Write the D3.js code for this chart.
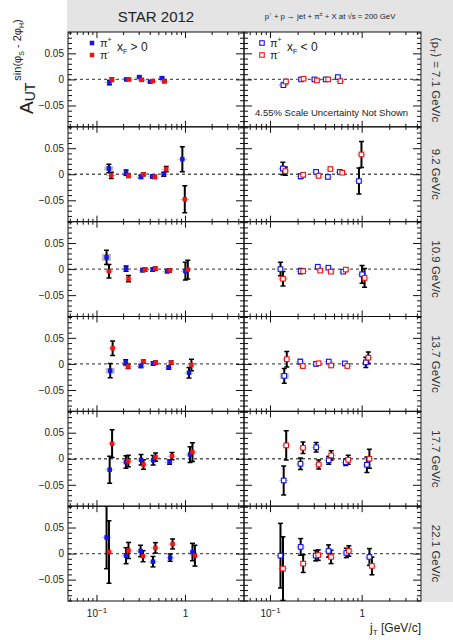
<!DOCTYPE html>
<html><head><meta charset="utf-8">
<script src="https://cdn.jsdelivr.net/npm/d3@7"></script>
<style>
body{margin:0;background:#fff}
svg{display:block;font-family:"Liberation Sans",Arial,Helvetica,sans-serif}
</style>
</head><body><svg id="c" width="453" height="640"></svg>
<script>
// ---------------- DATA ----------------
const rowLabels = ["\u27E8p_T\u27E9 = 7.1 GeV/c", "9.2 GeV/c", "10.9 GeV/c", "13.7 GeV/c", "17.7 GeV/c", "22.1 GeV/c"];
// jT bin centres per pT row (pi+ position; pi- drawn slightly shifted)
const jT = [
  [0.14, 0.218, 0.305, 0.405, 0.55],
  [0.138, 0.216, 0.318, 0.428, 0.576, 0.934],
  [0.13, 0.216, 0.332, 0.433, 0.63, 1.01],
  [0.143, 0.214, 0.318, 0.437, 0.655, 1.11],
  [0.141, 0.215, 0.319, 0.437, 0.67, 1.14],
  [0.13, 0.216, 0.315, 0.435, 0.68, 1.215]
];
// xF > 0, pi+
const posPlus = [
  [-0.006, 0.000, 0.0045, -0.0045, 0.0025],
  [0.011, 0.003, -0.005, -0.004, 0.000, 0.029],
  [0.0225, 0.001, -0.002, -0.001, -0.004, -0.004],
  [-0.013, 0.003, -0.004, 0.001, -0.007, -0.017],
  [-0.021, -0.0064, -0.002, -0.003, -0.0064, 0.008],
  [0.031, -0.004, 0.005, -0.0155, -0.0077, 0.003]
];
// xF > 0, pi-
const posMinus = [
  [0.000, 0.000, -0.001, -0.003, -0.004],
  [-0.002, -0.003, 0.000, -0.005, 0.010, -0.048],
  [-0.004, -0.0185, -0.001, 0.001, -0.0025, -0.001],
  [0.030, -0.005, 0.0045, 0.0026, 0.0026, -0.002],
  [0.029, -0.0045, -0.011, 0.003, 0.005, 0.0127],
  [0.003, 0.006, -0.005, 0.011, 0.0185, -0.004]
];
// xF < 0, pi+
const negPlus = [
  [-0.011, 0.000, 0.000, 0.000, 0.0045],
  [0.011, -0.004, 0.0045, -0.005, 0.0045, -0.013],
  [0.000, -0.004, 0.0045, 0.0026, -0.005, -0.010],
  [-0.023, 0.0045, 0.000, 0.0045, 0.001, 0.003],
  [-0.0417, -0.0096, 0.022, -0.003, -0.0064, -0.0115],
  [-0.004, 0.0128, -0.004, 0.005, 0.0013, -0.0064]
];
// xF < 0, pi-
const negMinus = [
  [-0.004, 0.0013, -0.002, 0.000, -0.0034],
  [0.006, -0.001, -0.003, 0.010, 0.003, 0.038],
  [-0.0185, -0.004, -0.003, -0.005, -0.001, -0.017],
  [0.009, -0.004, 0.0013, -0.003, -0.004, 0.012],
  [0.0256, 0.021, -0.011, 0.0064, -0.002, 0.000],
  [-0.0288, -0.0192, -0.003, -0.0064, 0.005, -0.0237]
];
// statistical errors
const errPosPlus = [
  [0.004, 0.002, 0.002, 0.002, 0.002],
  [0.008, 0.005, 0.003, 0.003, 0.004, 0.024],
  [0.0137, 0.005, 0.003, 0.003, 0.003, 0.017],
  [0.0137, 0.005, 0.003, 0.003, 0.003, 0.010],
  [0.026, 0.012, 0.010, 0.009, 0.004, 0.015],
  [0.060, 0.0154, 0.011, 0.010, 0.007, 0.0167]
];
const errPosMinus = [
  [0.003, 0.002, 0.002, 0.002, 0.002],
  [0.006, 0.003, 0.003, 0.003, 0.005, 0.026],
  [0.013, 0.006, 0.003, 0.003, 0.003, 0.018],
  [0.014, 0.004, 0.003, 0.003, 0.003, 0.011],
  [0.0266, 0.011, 0.009, 0.008, 0.007, 0.018],
  [0.060, 0.0154, 0.0106, 0.010, 0.0096, 0.020]
];
const errNegPlus = [
  [0.004, 0.002, 0.002, 0.002, 0.002],
  [0.012, 0.004, 0.003, 0.003, 0.003, 0.025],
  [0.013, 0.005, 0.003, 0.003, 0.003, 0.017],
  [0.014, 0.004, 0.003, 0.003, 0.003, 0.010],
  [0.028, 0.011, 0.009, 0.0075, 0.0065, 0.015],
  [0.062, 0.016, 0.010, 0.0117, 0.009, 0.016]
];
const errNegMinus = [
  [0.004, 0.002, 0.002, 0.002, 0.002],
  [0.008, 0.004, 0.003, 0.003, 0.003, 0.025],
  [0.014, 0.004, 0.003, 0.003, 0.003, 0.018],
  [0.015, 0.004, 0.003, 0.003, 0.003, 0.011],
  [0.028, 0.011, 0.0087, 0.009, 0.0087, 0.018],
  [0.061, 0.017, 0.010, 0.0128, 0.010, 0.017]
];
// systematic uncertainties (grey boxes)
const sysPosPlus = [
  [0.001, 0.0005, 0.0005, 0.0005, 0.0005],
  [0.004, 0.0005, 0.0005, 0.0005, 0.0005, 0.0005],
  [0.0067, 0.0005, 0.0005, 0.0005, 0.0005, 0.0005],
  [0.0055, 0.0005, 0.0005, 0.0005, 0.0005, 0.0005],
  [0.001, 0.0005, 0.0005, 0.0005, 0.0005, 0.0005],
  [0.001, 0.0005, 0.0005, 0.0005, 0.0005, 0.0005]
];
const sysPosMinus = [
  [0.0005, 0.0005, 0.0005, 0.0005, 0.0005],
  [0.0005, 0.0005, 0.0005, 0.0005, 0.0005, 0.0005],
  [0.001, 0.0005, 0.0005, 0.0005, 0.0005, 0.0005],
  [0.001, 0.0005, 0.0005, 0.0005, 0.0005, 0.0005],
  [0.001, 0.0005, 0.0005, 0.0005, 0.0005, 0.0005],
  [0.001, 0.0005, 0.0005, 0.0005, 0.0005, 0.0005]
];
const sysNegPlus = [
  [0.002, 0.0005, 0.0005, 0.0005, 0.0005],
  [0.002, 0.0005, 0.0005, 0.0005, 0.0005, 0.0005],
  [0.001, 0.0005, 0.0005, 0.0005, 0.0005, 0.0005],
  [0.0055, 0.0005, 0.0005, 0.0005, 0.0005, 0.0005],
  [0.001, 0.0005, 0.0005, 0.0005, 0.0005, 0.0005],
  [0.001, 0.0005, 0.0005, 0.0005, 0.0005, 0.0005]
];
const sysNegMinus = [
  [0.0005, 0.0005, 0.0005, 0.0005, 0.0005],
  [0.001, 0.0005, 0.0005, 0.0005, 0.0005, 0.0005],
  [0.003, 0.0005, 0.0005, 0.0005, 0.0005, 0.0005],
  [0.001, 0.0005, 0.0005, 0.0005, 0.0005, 0.0005],
  [0.001, 0.0005, 0.0005, 0.0005, 0.0005, 0.0005],
  [0.001, 0.0005, 0.0005, 0.0005, 0.0005, 0.0005]
];
const yMajorTicks = [-0.05, 0, 0.05];
const yMinorTicks = [-0.09, -0.08, -0.07, -0.06, -0.04, -0.03, -0.02, -0.01, 0.01, 0.02, 0.03, 0.04, 0.06, 0.07, 0.08, 0.09];
const xMajorTicks = [0.1, 1];
const xMinorTicks = [0.05, 0.06, 0.07, 0.08, 0.09, 0.2, 0.3, 0.4, 0.5, 0.6, 0.7, 0.8, 0.9, 2, 3, 4];

// ---------------- LAYOUT ----------------
const W = 453, H = 640;
const L = 68, M = 244, R = 421, T = 32, B = 601;
const nRows = rowLabels.length;
const rowH = (B - T) / nRows;
const blue = "#1414f0", red = "#f01414";
const minusShift = 1.065;
const svg = d3.select("#c");

svg.append("rect").attr("x", 67).attr("y", 0).attr("width", W - 67).attr("height", T).attr("fill", "#e4e4e4");
svg.append("rect").attr("x", R + 1).attr("y", T).attr("width", W - R - 1).attr("height", B - T + 1).attr("fill", "#e4e4e4");

const xL = d3.scaleLog().domain([0.0477, 4.64]).range([L, M]);
const xR = d3.scaleLog().domain([0.052, 4.44]).range([M, R]);
const panels = [
  {x: xL, plus: posPlus, minus: posMinus, ePlus: errPosPlus, eMinus: errPosMinus, sPlus: sysPosPlus, sMinus: sysPosMinus, filled: true},
  {x: xR, plus: negPlus, minus: negMinus, ePlus: errNegPlus, eMinus: errNegMinus, sPlus: sysNegPlus, sMinus: sysNegMinus, filled: false}
];
const fmtY = d => d === 0 ? "0" : (d < 0 ? "\u2212" + Math.abs(d) : String(d));

function inDom(sc, vals) { const [a, b] = sc.domain(); return vals.filter(v => v >= a && v <= b); }

for (let r = 0; r < nRows; r++) {
  const y0 = T + r * rowH, y1 = T + (r + 1) * rowH;
  const y = d3.scaleLinear().domain([-0.091, 0.091]).range([y1, y0]);
  const g = svg.append("g");

  // zero line
  g.append("line").attr("x1", L).attr("x2", R).attr("y1", y(0)).attr("y2", y(0))
    .attr("stroke", "#555").attr("stroke-width", 1.3).attr("stroke-dasharray", "3,3");

  panels.forEach((p, pi) => {
    const [xa, xb] = p.x.range();
    g.append("g").attr("transform", `translate(${xa},0)`)
      .call(d3.axisLeft(y).tickValues(yMajorTicks).tickSizeInner(-8).tickSizeOuter(0).tickPadding(4)
        .tickFormat(pi === 0 ? fmtY : ""));
    g.append("g").attr("transform", `translate(${xa},0)`)
      .call(d3.axisLeft(y).tickValues(yMinorTicks).tickSizeInner(-4).tickSizeOuter(0).tickFormat(""));
    g.append("g").attr("transform", `translate(${xb},0)`)
      .call(d3.axisRight(y).tickValues(yMajorTicks).tickSizeInner(-8).tickSizeOuter(0).tickFormat(""));
    g.append("g").attr("transform", `translate(${xb},0)`)
      .call(d3.axisRight(y).tickValues(yMinorTicks).tickSizeInner(-4).tickSizeOuter(0).tickFormat(""));
    const xb1 = g.append("g").attr("transform", `translate(0,${y1})`)
      .call(d3.axisBottom(p.x).tickValues(inDom(p.x, xMajorTicks)).tickSizeInner(-6).tickSizeOuter(0).tickFormat(""));
    g.append("g").attr("transform", `translate(0,${y1})`)
      .call(d3.axisBottom(p.x).tickValues(inDom(p.x, xMinorTicks)).tickSizeInner(-3).tickSizeOuter(0).tickFormat(""));
    g.append("g").attr("transform", `translate(0,${y0})`)
      .call(d3.axisTop(p.x).tickValues(inDom(p.x, xMajorTicks)).tickSizeInner(-6).tickSizeOuter(0).tickFormat(""));
    g.append("g").attr("transform", `translate(0,${y0})`)
      .call(d3.axisTop(p.x).tickValues(inDom(p.x, xMinorTicks)).tickSizeInner(-3).tickSizeOuter(0).tickFormat(""));
    if (r === nRows - 1) {
      xb1.selectAll(".tick").each(function(d) {
        const t = d3.select(this).append("text").attr("y", 16).attr("fill", "#222")
          .attr("font-size", 11).attr("text-anchor", "middle");
        if (d === 1) t.text("1");
        else { t.append("tspan").text("10"); t.append("tspan").attr("dy", -4).attr("font-size", 8).text("\u22121"); }
      });
    }

    g.append("rect").attr("x", xa).attr("y", y0).attr("width", xb - xa).attr("height", y1 - y0)
      .attr("fill", "none").attr("stroke", "#111").attr("stroke-width", 1);

    const series = [
      {vals: p.plus[r], err: p.ePlus[r], sys: p.sPlus[r], col: blue, shift: 1},
      {vals: p.minus[r], err: p.eMinus[r], sys: p.sMinus[r], col: red, shift: minusShift}
    ];
    const clipId = `clip${r}_${pi}`;
    svg.append("clipPath").attr("id", clipId).append("rect")
      .attr("x", xa).attr("y", y0).attr("width", xb - xa).attr("height", y1 - y0);
    const dg = g.append("g").attr("clip-path", `url(#${clipId})`);
    series.forEach(s => {
      const pts = s.vals.map((v, i) => ({x: p.x(jT[r][i] * s.shift), v, sy: s.sys[i]}));
      dg.selectAll(null).data(pts).join("rect")
        .attr("x", d => d.x - 4.5).attr("width", 9)
        .attr("y", d => y(d.v + d.sy)).attr("height", d => Math.max(1, y(d.v - d.sy) - y(d.v + d.sy)))
        .attr("fill", "#a0a0a0").attr("opacity", 0.7);
    });
    series.forEach(s => {
      const pts = s.vals.map((v, i) => ({x: p.x(jT[r][i] * s.shift), v, e: s.err[i]}));
      dg.selectAll(null).data(pts).join("line")
        .attr("x1", d => d.x).attr("x2", d => d.x).attr("y1", d => y(d.v - d.e)).attr("y2", d => y(d.v + d.e))
        .attr("stroke", "#000").attr("stroke-width", 2);
      ["-", "+"].forEach(sg => {
        dg.selectAll(null).data(pts).join("line")
          .attr("x1", d => d.x - 2.5).attr("x2", d => d.x + 2.5)
          .attr("y1", d => y(sg === "+" ? d.v + d.e : d.v - d.e)).attr("y2", d => y(sg === "+" ? d.v + d.e : d.v - d.e))
          .attr("stroke", "#000").attr("stroke-width", 1.5);
      });
    });
    series.forEach(s => {
      const pts = s.vals.map((v, i) => ({x: p.x(jT[r][i] * s.shift), v}));
      if (p.filled) {
        dg.selectAll(null).data(pts).join("rect")
          .attr("x", d => d.x - 2.25).attr("y", d => y(d.v) - 2.25).attr("width", 4.5).attr("height", 4.5)
          .attr("fill", s.col);
      } else {
        dg.selectAll(null).data(pts).join("rect")
          .attr("x", d => d.x - 2.3).attr("y", d => y(d.v) - 2.3).attr("width", 4.6).attr("height", 4.6)
          .attr("fill", "#fff").attr("stroke", s.col).attr("stroke-width", 1.1);
      }
    });
  });
  g.selectAll(".domain").remove();
  g.selectAll(".tick line").attr("stroke", "#111");
  g.selectAll(".tick text").attr("fill", "#222").attr("font-size", 10);

  svg.append("text").attr("transform", `translate(435,${(y0 + y1) / 2}) rotate(90)`)
    .attr("text-anchor", "middle").attr("dominant-baseline", "middle").attr("font-size", 11.5).attr("fill", "#333")
    .call(t => {
      const lab = rowLabels[r];
      if (lab.includes("p_T")) {
        t.append("tspan").text("\u27E8p");
        t.append("tspan").attr("font-size", 8).attr("dy", 3).text("T");
        t.append("tspan").attr("dy", -3).text("\u27E9 = " + lab.split("= ")[1]);
      } else t.text(lab);
    });
}

// header
svg.append("text").attr("x", 156).attr("y", 22).attr("text-anchor", "middle").attr("font-size", 15).attr("fill", "#222").text("STAR 2012");
svg.append("text").attr("x", 330).attr("y", 19).attr("text-anchor", "middle").attr("font-size", 7.8).attr("fill", "#222")
  .call(t => {
    t.append("tspan").text("p");
    t.append("tspan").attr("dy", -3).attr("font-size", 5.5).text("\u2191");
    t.append("tspan").attr("dy", 3).text(" + p \u2192 jet + \u03C0");
    t.append("tspan").attr("dy", -3).attr("font-size", 5.5).text("\u00B1");
    t.append("tspan").attr("dy", 3).text(" + X at \u221As = 200 GeV");
  });

// legends
const legends = [
  {x: 92, filled: true, txt: "> 0"},
  {x: 262, filled: false, txt: "< 0"}
];
legends.forEach(lg => {
  [[blue, 43, "+"], [red, 55, "\u2212"]].forEach(([c, yy, s]) => {
    svg.append("rect").attr("x", lg.x - 2.25).attr("y", yy - 2.25).attr("width", 4.5).attr("height", 4.5)
      .attr("fill", lg.filled ? c : "#fff").attr("stroke", lg.filled ? "none" : c).attr("stroke-width", 1.1);
    svg.append("text").attr("x", lg.x + 8).attr("y", yy + 4).attr("font-size", 11).attr("fill", "#222")
      .call(t => { t.append("tspan").text("\u03C0"); t.append("tspan").attr("dy", -5).attr("font-size", 7).text(s === "+" ? "+" : "-"); });
  });
  svg.append("text").attr("x", lg.x + 25).attr("y", 51).attr("font-size", 12).attr("fill", "#222")
    .call(t => { t.append("tspan").text("x"); t.append("tspan").attr("font-size", 7).attr("dy", 3).text("F");
      t.append("tspan").attr("dy", -3).text(" " + lg.txt); });
});
svg.append("text").attr("x", 255).attr("y", 116).attr("font-size", 9.5).attr("fill", "#222").text("4.55% Scale Uncertainty Not Shown");

// y title
svg.append("text").attr("transform", "translate(33,114) rotate(-90)").attr("fill", "#222")
  .call(t => {
    t.append("tspan").attr("font-size", 19).text("A");
    t.append("tspan").attr("font-size", 14).attr("dy", 2).text("UT");
    t.append("tspan").attr("font-size", 11).attr("dy", -14).attr("dx", 2).text("sin(\u03C6");
    t.append("tspan").attr("font-size", 7).attr("dy", 3).text("S");
    t.append("tspan").attr("font-size", 11).attr("dy", -3).text(" - 2\u03C6");
    t.append("tspan").attr("font-size", 7).attr("dy", 3).text("H");
    t.append("tspan").attr("font-size", 11).attr("dy", -3).text(")");
  });

// x title
svg.append("text").attr("x", 421).attr("y", 632).attr("text-anchor", "end").attr("font-size", 12).attr("fill", "#222")
  .call(t => { t.append("tspan").text("j"); t.append("tspan").attr("font-size", 8).attr("dy", 3).text("T");
    t.append("tspan").attr("dy", -3).text(" [GeV/c]"); });
</script>
</body></html>
